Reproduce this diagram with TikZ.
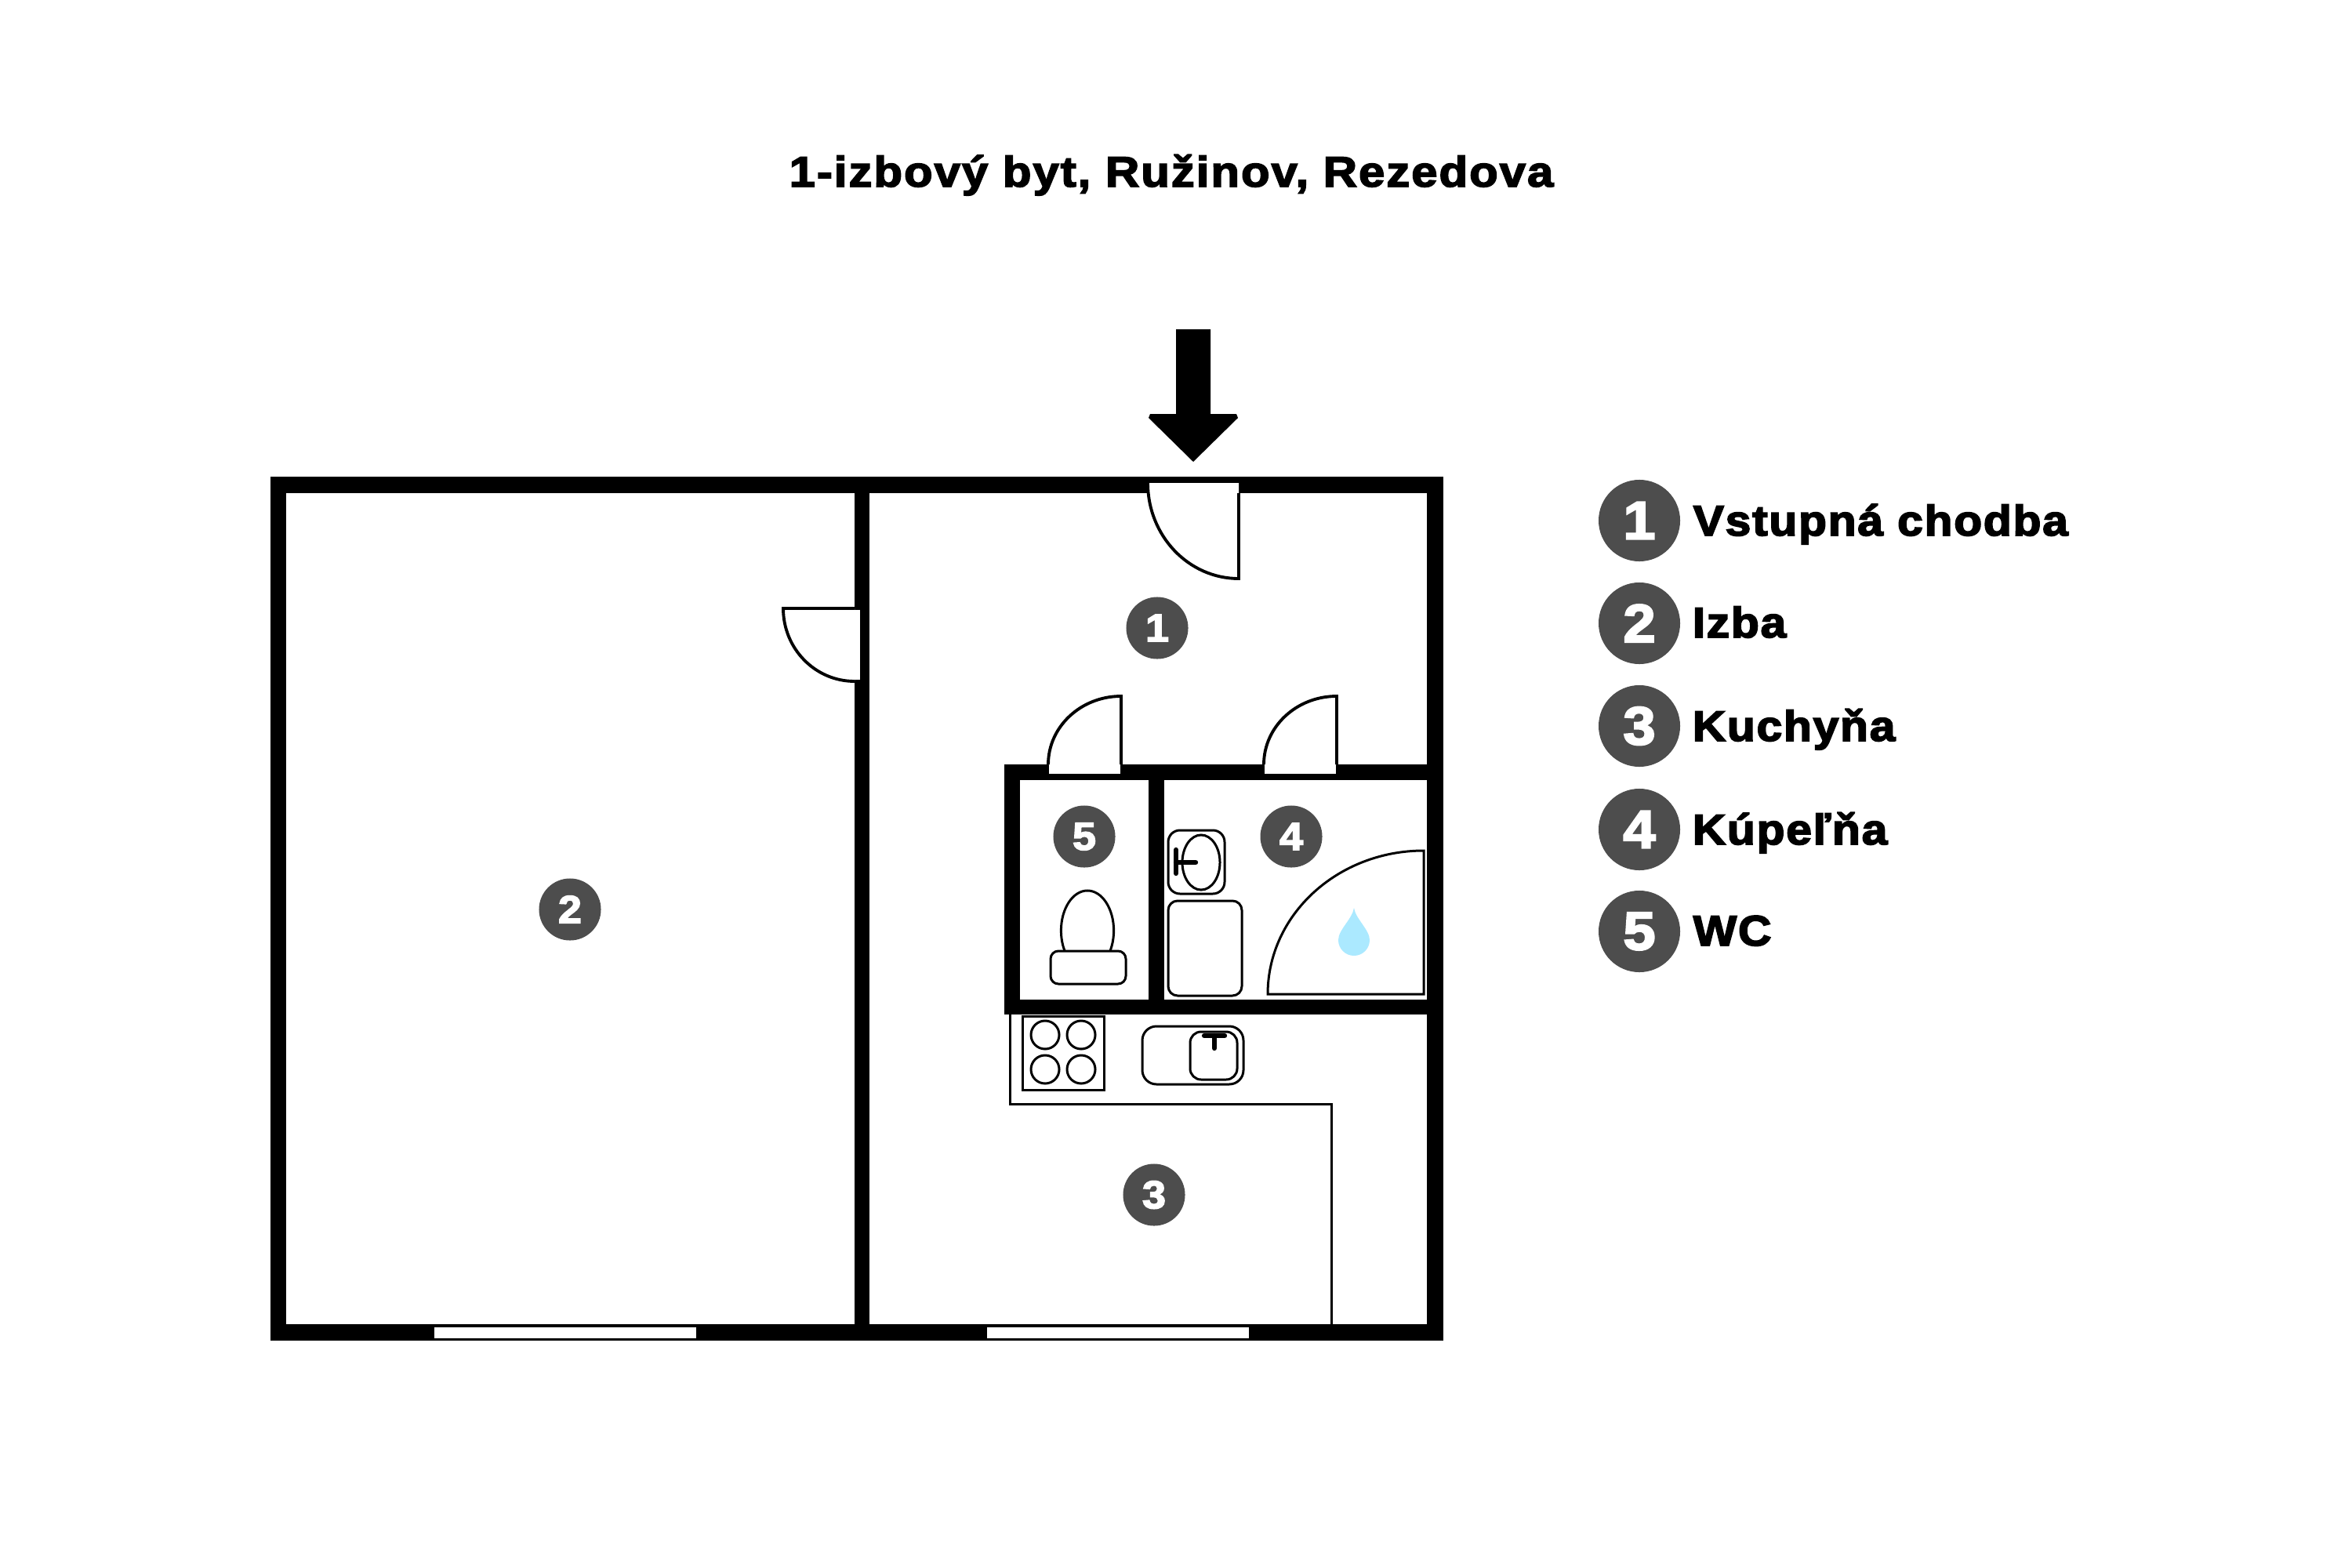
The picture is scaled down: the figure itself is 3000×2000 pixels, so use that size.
\documentclass[tikz,border=0pt]{standalone}
\usepackage{fontspec}
\newfontfamily\heavyfont[UprightFont={* Bold},FakeBold=3.2,FakeStretch=1.08,LetterSpace=3.1]{Liberation Sans}
\newfontfamily\digitfont[UprightFont={* Bold},FakeBold=3.2,FakeStretch=1.08]{Liberation Sans}
\newfontfamily\titlefont[UprightFont={* Bold},FakeBold=3,FakeStretch=1.1,LetterSpace=3.6]{Liberation Sans}
\usepackage{tikz}
\definecolor{badgegray}{HTML}{4D4D4D}
\definecolor{dropblue}{HTML}{ABE9FF}
\newcommand\arcfactor{.5523}
\tikzset{
    wall/.style={fill=black},
    doorline/.style={draw=black, line width=1.1pt, line join=miter},
    fixture/.style={draw=black, line width=.85pt},
    thinline/.style={draw=black, line width=.85pt},
    tapline/.style={draw=black, line width=1.8pt, line cap=round},
    badge/.style={circle, fill=badgegray, text=white, inner sep=0pt, minimum size=.79cm, font=\digitfont\fontsize{14.2}{14.2}\selectfont},
    legendbadge/.style={circle, fill=badgegray, text=white, inner sep=0pt, minimum size=1.04cm, font=\digitfont\fontsize{19.5}{19.5}\selectfont},
    legendtext/.style={anchor=base west, inner sep=0pt, font=\heavyfont\fontsize{15.5}{15.5}\selectfont}
}
\begin{document}
\begin{tikzpicture}[x=.01cm, y=-.01cm]
    \useasboundingbox[fill=white] (0,0) rectangle (3000,2000);
    % title
    \node[anchor=base, inner sep=0pt, font=\titlefont\fontsize{15.5}{15.5}\selectfont] (title) at (1494,238) {1-izbový byt, Ružinov, Rezedova};
    % walls
    \fill[wall] (345,608) rectangle (1841,629);
    \fill[wall] (345,1689) rectangle (1841,1710);
    \fill[wall] (345,608) rectangle (365,1710);
    \fill[wall] (1820,608) rectangle (1841,1710);
    \fill[wall] (1090,608) rectangle (1109,1710);
    \fill[wall] (1281,975) rectangle (1841,995);
    \fill[wall] (1281,1275) rectangle (1841,1294);
    \fill[wall] (1281,975) rectangle (1301,1294);
    \fill[wall] (1465,975) rectangle (1485,1294);
    % windows
    \fill[white] (554,1693) rectangle (888,1707);
    \fill[white] (1259,1693) rectangle (1593,1707);
    % entrance arrow
    \fill[black] (1500,420) -- (1544,420) -- (1544,528) -- (1577,528) -- (1579,533) -- (1522,589) -- (1465,533) -- (1467,528) -- (1500,528) -- cycle;
    % doors
    \fill[white] (1464,616) .. controls +(0,{122*\arcfactor}) and +({-116*\arcfactor},0) .. (1580,738) -- (1580,616) -- cycle;
    \draw[doorline] (1464,616) .. controls +(0,{122*\arcfactor}) and +({-116*\arcfactor},0) .. (1580,738) -- (1580,629);
    \fill[white] (999,776) .. controls +(0,{93*\arcfactor}) and +({-91*\arcfactor},0) .. (1090,869) -- (1090,776) -- cycle;
    \fill[white] (1085,778) rectangle (1097,867);
    \draw[doorline] (1090,776) -- (999,776) .. controls +(0,{93*\arcfactor}) and +({-91*\arcfactor},0) .. (1090,869);
    \fill[white] (1338,970) rectangle (1429,987);
    \fill[white] (1337,975) .. controls +(0,{-87*\arcfactor}) and +({-93*\arcfactor},0) .. (1430,888) -- (1430,975) -- cycle;
    \draw[doorline] (1337,975) .. controls +(0,{-87*\arcfactor}) and +({-93*\arcfactor},0) .. (1430,888) -- (1430,975);
    \fill[white] (1613,970) rectangle (1704,987);
    \fill[white] (1612,975) .. controls +(0,{-87*\arcfactor}) and +({-93*\arcfactor},0) .. (1705,888) -- (1705,975) -- cycle;
    \draw[doorline] (1612,975) .. controls +(0,{-87*\arcfactor}) and +({-93*\arcfactor},0) .. (1705,888) -- (1705,975);
    % bathroom
    \draw[fixture, rounded corners=.15cm] (1490,1059) rectangle (1562,1140);
    \draw[fixture] (1532,1100) ellipse (.24cm and .35cm);
    \draw[tapline] (1500,1084) -- (1500,1114);
    \draw[tapline] (1500,1100) -- (1525,1100);
    \draw[fixture, rounded corners=.12cm] (1490,1149) rectangle (1584,1270);
    \draw[doorline, line width=.85pt] (1617,1268) .. controls +(0,{-183*\arcfactor}) and +({-199*\arcfactor},0) .. (1816,1085) -- (1816,1268) -- cycle;
    \fill[dropblue] (1727,1158) .. controls (1729,1172) and (1747,1186) .. (1747,1199) arc[start angle=0, end angle=180, radius=20] .. controls (1707,1186) and (1725,1172) .. (1727,1158) -- cycle;
    % toilet
    \draw[fixture] (1387,1187) ellipse (.336cm and .51cm);
    \draw[fixture, fill=white, rounded corners=.1cm] (1340,1213) rectangle (1436,1255);
    % kitchen
    \draw[thinline] (1288,1294) -- (1288,1408) -- (1698,1408) -- (1698,1689);
    \draw[fixture] (1304,1296) rectangle (1408,1390);
    \foreach \hobx in {1333,1379}
        \foreach \hoby in {1320,1364}
            \draw[fixture] (\hobx,\hoby) circle (.18cm);
    \draw[fixture, rounded corners=.18cm] (1457,1309) rectangle (1586,1383);
    \draw[fixture, rounded corners=.14cm] (1518,1316) rectangle (1578,1377);
    \draw[tapline] (1536,1321) -- (1562,1321);
    \draw[tapline] (1549,1321) -- (1549,1337);
    % room numbers
    \node[badge] (room1) at (1476,801) {1};
    \node[badge] (room2) at (727,1160) {2};
    \node[badge] (room3) at (1472,1524) {3};
    \node[badge] (room4) at (1647,1067) {4};
    \node[badge] (room5) at (1383,1067) {5};
    % legend
    \node[legendbadge] (key1) at (2091,664) {1};
    \node[legendbadge] (key2) at (2091,795) {2};
    \node[legendbadge] (key3) at (2091,926) {3};
    \node[legendbadge] (key4) at (2091,1058) {4};
    \node[legendbadge] (key5) at (2091,1188) {5};
    \node[legendtext] (name1) at (2159,683) {Vstupná chodba};
    \node[legendtext] (name2) at (2158,813) {Izba};
    \node[legendtext] (name3) at (2158,945) {Kuchyňa};
    \node[legendtext] (name4) at (2158,1077) {Kúpeľňa};
    \node[legendtext] (name5) at (2159,1206) {WC};
\end{tikzpicture}
\end{document}
